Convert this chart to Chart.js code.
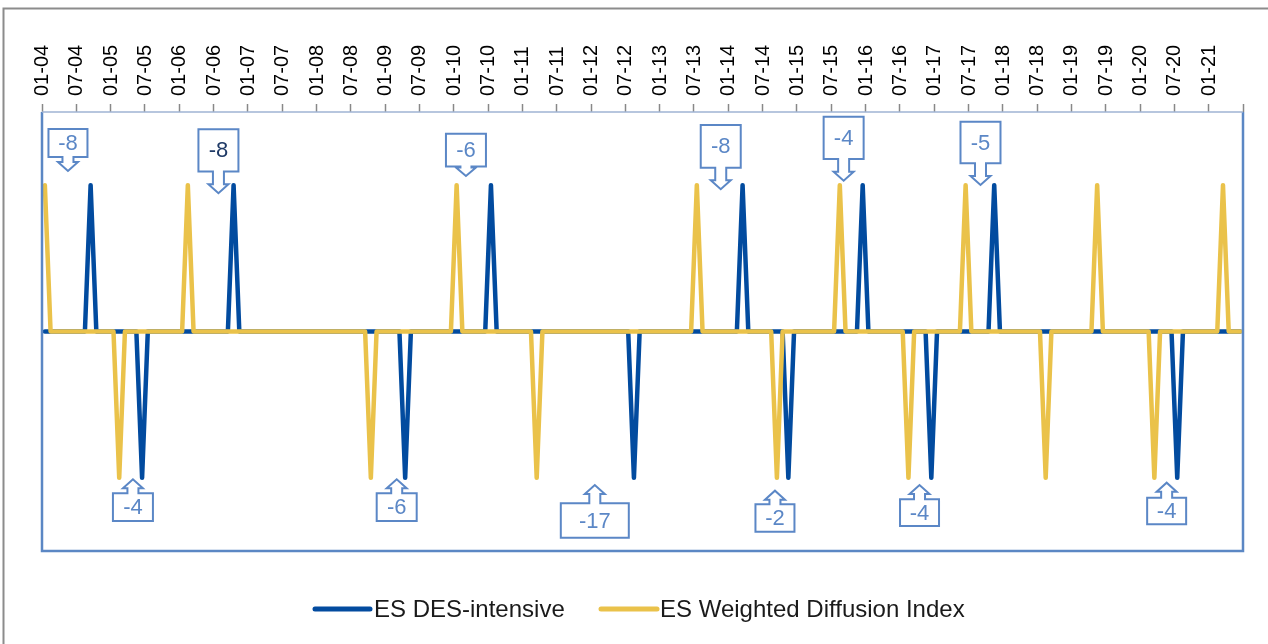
<!DOCTYPE html>
<html>
<head>
<meta charset="utf-8">
<script src="https://cdn.jsdelivr.net/npm/chart.js@4.4.1/dist/chart.umd.min.js"></script>
<style>
  html, body { margin: 0; padding: 0; background: #ffffff; }
  #wrap { width: 1268px; height: 644px; position: relative; }
</style>
</head>
<body>
<div id="wrap"><canvas id="chart" width="1268" height="644"></canvas></div>
<script>
// Monthly axis: January 2004 through June 2021
const firstMonth = '01-04';
const lastMonth = '06-21';

// Axis labels, one every six months
const tickLabels = [
  '01-04','07-04','01-05','07-05','01-06','07-06','01-07','07-07','01-08','07-08',
  '01-09','07-09','01-10','07-10','01-11','07-11','01-12','07-12','01-13','07-13',
  '01-14','07-14','01-15','07-15','01-16','07-16','01-17','07-17','01-18','07-18',
  '01-19','07-19','01-20','07-20','01-21'
];

// Turning points (MM-YY): peaks = +1, troughs = -1, all other months = 0
const desPeaks   = ['09-04','10-06','07-10','03-14','12-15','11-17'];
const desTroughs = ['06-05','04-09','08-12','11-14','12-16','07-20'];
const wdiPeaks   = ['01-04','02-06','01-10','07-13','08-15','06-17','05-19','03-21'];
const wdiTroughs = ['02-05','10-08','03-11','09-14','08-16','08-18','03-20'];

// Lead of the diffusion index over the DES-intensive cycle: [index turn, DES turn]
const leadPairs = [
  ['01-04','09-04'], ['02-06','10-06'], ['01-10','07-10'], ['07-13','03-14'],
  ['08-15','12-15'], ['06-17','11-17'],
  ['02-05','06-05'], ['10-08','04-09'], ['03-11','08-12'], ['09-14','11-14'],
  ['08-16','12-16'], ['03-20','07-20']
];

// Callout placement: arrow tip (x in months from start, y in index units), box size and arrow length in px
const calloutPlacement = [
  { x: 4.04,   y: 1.097,  dir: 'down', w: 39, h: 28,   len: 14,   color: '#5b87c6' },
  { x: 30.35,  y: 0.945,  dir: 'down', w: 40, h: 42.4, len: 21.6, color: '#1f3a66' },
  { x: 73.63,  y: 1.063,  dir: 'down', w: 40, h: 32.7, len: 9.5,  color: '#5b87c6' },
  { x: 118.18, y: 0.972,  dir: 'down', w: 40, h: 42.7, len: 21.6, color: '#5b87c6' },
  { x: 139.67, y: 1.031,  dir: 'down', w: 40, h: 42.3, len: 21.7, color: '#5b87c6' },
  { x: 163.6,  y: 1.001,  dir: 'down', w: 40, h: 41.6, len: 21.7, color: '#5b87c6' },
  { x: 15.4,   y: -1.010, dir: 'up',   w: 40, h: 27.7, len: 14,   color: '#5b87c6' },
  { x: 61.52,  y: -1.010, dir: 'up',   w: 40, h: 27.7, len: 14,   color: '#5b87c6' },
  { x: 96.16,  y: -1.049, dir: 'up',   w: 68, h: 34.4, len: 18.3, color: '#5b87c6' },
  { x: 127.66, y: -1.088, dir: 'up',   w: 39, h: 27.4, len: 13.6, color: '#5b87c6' },
  { x: 152.94, y: -1.049, dir: 'up',   w: 39, h: 26.7, len: 14.3, color: '#5b87c6' },
  { x: 196.15, y: -1.033, dir: 'up',   w: 39, h: 26.6, len: 15,   color: '#5b87c6' }
];

const seriesNames = ['ES DES-intensive', 'ES Weighted Diffusion Index'];
const seriesColors = ['#024b9f', '#eac24a'];

function monthIndex(mmyy) {
  const [mm, yy] = mmyy.split('-').map(Number);
  return (yy - 4) * 12 + (mm - 1);
}

const monthCount = monthIndex(lastMonth) - monthIndex(firstMonth) + 1;

function buildSeries(peaks, troughs) {
  const values = new Array(monthCount).fill(0);
  peaks.forEach(m => { values[monthIndex(m)] = 1; });
  troughs.forEach(m => { values[monthIndex(m)] = -1; });
  return values.map((v, i) => ({ x: i, y: v }));
}

const desSeries = buildSeries(desPeaks, desTroughs);
const wdiSeries = buildSeries(wdiPeaks, wdiTroughs);

const FONT = "'Liberation Sans', Arial, sans-serif";

// Plot frame, outer frame, callouts and legend
const decorations = {
  id: 'decorations',
  beforeDraw(chart) {
    const { ctx } = chart;
    ctx.save();
    ctx.fillStyle = '#ffffff';
    ctx.fillRect(0, 0, chart.width, chart.height);
    ctx.strokeStyle = '#8c8c8c';
    ctx.lineWidth = 2;
    ctx.beginPath();
    ctx.moveTo(3.5, chart.height);
    ctx.lineTo(3.5, 8.5);
    ctx.lineTo(chart.width, 8.5);
    ctx.stroke();
    ctx.restore();
  },
  afterDatasetsDraw(chart) {
    const { ctx, chartArea: a } = chart;
    ctx.save();
    // plot frame
    ctx.lineWidth = 2.5;
    ctx.strokeStyle = '#5b87c4';
    ctx.beginPath();
    ctx.moveTo(a.left, a.top);
    ctx.lineTo(a.left, a.bottom);
    ctx.lineTo(a.right, a.bottom);
    ctx.lineTo(a.right, a.top);
    ctx.stroke();
    ctx.lineWidth = 1.5;
    ctx.strokeStyle = '#9fb3d3';
    ctx.beginPath();
    ctx.moveTo(a.left, a.top);
    ctx.lineTo(a.right, a.top);
    ctx.stroke();

    // callouts with lead in months
    const xs = chart.scales.x, ys = chart.scales.y;
    leadPairs.forEach((pair, i) => {
      const p = calloutPlacement[i];
      const lead = monthIndex(pair[0]) - monthIndex(pair[1]);
      const tx = xs.getPixelForValue(p.x);
      const ty = ys.getPixelForValue(p.y);
      const s = p.dir === 'down' ? -1 : 1;
      const sw = 5.5, hw = 10, hh = Math.min(9, p.len - 1);
      const base = ty + s * p.len;           // box edge touching the arrow
      const far = base + s * p.h;            // opposite box edge
      const l = tx - p.w / 2, r = tx + p.w / 2;
      ctx.beginPath();
      ctx.moveTo(l, far);
      ctx.lineTo(r, far);
      ctx.lineTo(r, base);
      ctx.lineTo(tx + sw, base);
      ctx.lineTo(tx + sw, ty + s * hh);
      ctx.lineTo(tx + hw, ty + s * hh);
      ctx.lineTo(tx, ty);
      ctx.lineTo(tx - hw, ty + s * hh);
      ctx.lineTo(tx - sw, ty + s * hh);
      ctx.lineTo(tx - sw, base);
      ctx.lineTo(l, base);
      ctx.closePath();
      ctx.fillStyle = '#ffffff';
      ctx.fill();
      ctx.lineWidth = 2;
      ctx.lineJoin = 'miter';
      ctx.strokeStyle = '#5b87c6';
      ctx.stroke();
      ctx.fillStyle = p.color;
      ctx.font = '22px ' + FONT;
      ctx.textAlign = 'center';
      ctx.textBaseline = 'middle';
      ctx.fillText(String(lead), tx, (base + far) / 2 + 1);
    });

    // legend
    const legendY = 609;
    const items = [
      { x0: 315, x1: 370, tx: 374 },
      { x0: 601, x1: 657, tx: 660 }
    ];
    items.forEach((it, i) => {
      ctx.strokeStyle = seriesColors[i];
      ctx.lineWidth = 5;
      ctx.lineCap = 'round';
      ctx.beginPath();
      ctx.moveTo(it.x0, legendY);
      ctx.lineTo(it.x1, legendY);
      ctx.stroke();
      ctx.fillStyle = '#1a1a1a';
      ctx.font = '24px ' + FONT;
      ctx.textAlign = 'left';
      ctx.textBaseline = 'middle';
      ctx.fillText(seriesNames[i], it.tx, legendY + 1);
    });
    ctx.restore();
  }
};

new Chart(document.getElementById('chart'), {
  type: 'line',
  data: {
    datasets: [
      {
        label: seriesNames[0],
        data: desSeries,
        borderColor: seriesColors[0],
        borderWidth: 4.5,
        borderJoinStyle: 'round',
        borderCapStyle: 'round',
        pointRadius: 0,
        tension: 0,
        order: 2
      },
      {
        label: seriesNames[1],
        data: wdiSeries,
        borderColor: seriesColors[1],
        borderWidth: 4.5,
        borderJoinStyle: 'round',
        borderCapStyle: 'round',
        pointRadius: 0,
        tension: 0,
        order: 1
      }
    ]
  },
  options: {
    responsive: false,
    animation: false,
    devicePixelRatio: 1,
    layout: { padding: { left: 42, right: 25, top: 0, bottom: 93 } },
    plugins: {
      legend: { display: false },
      tooltip: { enabled: false }
    },
    scales: {
      x: {
        type: 'linear',
        position: 'top',
        min: -0.5,
        max: monthCount - 0.5,
        afterBuildTicks(scale) {
          const ticks = [];
          for (let k = 0; k <= monthCount / 6; k++) ticks.push({ value: -0.5 + 6 * k });
          scale.ticks = ticks;
        },
        afterFit(scale) { scale.height = 112; },
        ticks: {
          autoSkip: false,
          minRotation: 90,
          maxRotation: 90,
          padding: 8,
          labelOffset: 24.5,
          color: '#000000',
          font: { family: FONT, size: 20 },
          callback: (value, index) => tickLabels[index] || ''
        },
        grid: {
          drawOnChartArea: false,
          drawTicks: true,
          tickLength: 8,
          tickWidth: 1.5,
          tickColor: '#888888'
        },
        border: { display: false }
      },
      y: {
        display: false,
        min: -1.5,
        max: 1.5
      }
    }
  },
  plugins: [decorations]
});
</script>
</body>
</html>
